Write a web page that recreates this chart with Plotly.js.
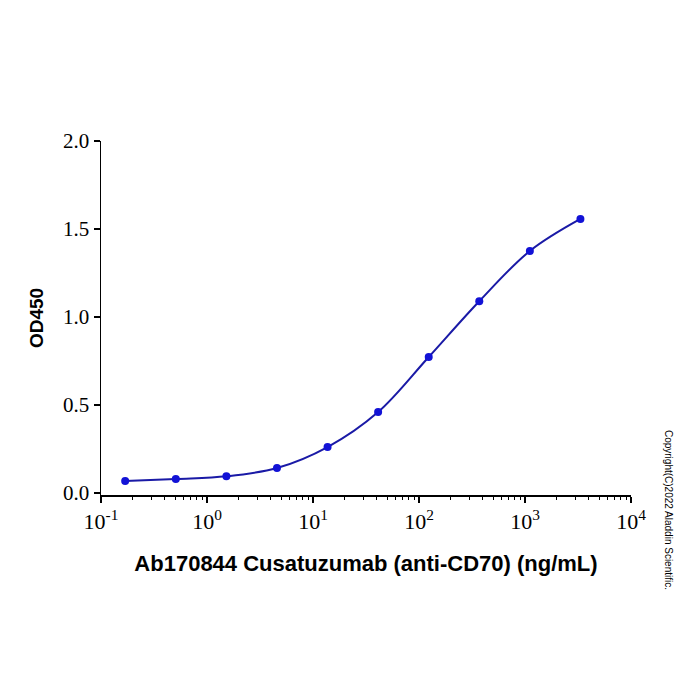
<!DOCTYPE html>
<html>
<head>
<meta charset="utf-8">
<script src="https://cdn.plot.ly/plotly-3.0.1.min.js"></script>
<style>
  html, body { margin: 0; padding: 0; background: #fff; }
  #chart { width: 700px; height: 700px; }
</style>
</head>
<body>
<div id="chart"></div>
<script>
// Concentration series (ng/mL), 3-fold dilutions
const concentration = [0.169, 0.508, 1.524, 4.572, 13.72, 41.15, 123.5, 370.4, 1111, 3333];
// Measured absorbance at 450 nm
const od450 = [0.068, 0.080, 0.095, 0.142, 0.261, 0.460, 0.773, 1.090, 1.375, 1.557];

// Decade ticks on the concentration axis
const xTickVals = [0.1, 1, 10, 100, 1000, 10000];
const xTickText = ['10<sup>-1</sup>', '10<sup>0</sup>', '10<sup>1</sup>', '10<sup>2</sup>', '10<sup>3</sup>', '10<sup>4</sup>'];
const yTickVals = [0, 0.5, 1.0, 1.5, 2.0];
const yTickText = ['0.0', '0.5', '1.0', '1.5', '2.0'];

const xTitle = 'Ab170844 Cusatuzumab (anti-CD70) (ng/mL)';
const yTitle = 'OD450';
const note = 'Copyright(C)2022 Aladdin Scientific.';

const curve = {
  x: concentration,
  y: od450,
  type: 'scatter',
  mode: 'lines',
  line: { color: '#1a1aa6', width: 2, shape: 'spline', smoothing: 1 },
  hoverinfo: 'skip',
  showlegend: false
};

const points = {
  x: concentration,
  y: od450,
  type: 'scatter',
  mode: 'markers',
  marker: { color: '#1212d6', size: 8 },
  showlegend: false
};

const tickFont = { family: 'Liberation Serif, Times New Roman, serif', size: 21, color: '#000' };
const titleFont = { family: 'Liberation Sans, Arial, sans-serif', size: 19, color: '#000', weight: 'bold' };

const layout = {
  width: 700,
  height: 700,
  paper_bgcolor: '#fff',
  plot_bgcolor: '#fff',
  margin: { l: 101, r: 69, t: 141, b: 205 },
  xaxis: {
    type: 'log',
    range: [-1, 4],
    tickmode: 'array',
    tickvals: xTickVals,
    ticktext: xTickText,
    showgrid: false,
    zeroline: false,
    showline: true,
    linecolor: '#000',
    linewidth: 1.5,
    ticks: 'outside',
    ticklen: 6,
    tickwidth: 1.5,
    tickcolor: '#000',
    tickfont: { family: tickFont.family, size: 22, color: '#000' },
    minor: { ticks: 'outside', dtick: 'D1', ticklen: 3.5, tickwidth: 1, tickcolor: '#000', showgrid: false },
    title: {
      text: xTitle,
      font: Object.assign({}, titleFont, { size: 22 }),
      standoff: 22
    }
  },
  yaxis: {
    range: [-0.011, 2.0],
    tickmode: 'array',
    tickvals: yTickVals,
    ticktext: yTickText,
    showgrid: false,
    zeroline: false,
    showline: true,
    linecolor: '#000',
    linewidth: 1.5,
    ticks: 'outside',
    ticklen: 6,
    tickwidth: 1.5,
    tickcolor: '#000',
    tickfont: tickFont,
    title: {
      text: yTitle,
      font: titleFont,
      standoff: 14
    }
  },
  annotations: [{
    text: note,
    xref: 'paper', yref: 'paper',
    x: 1.072, y: 0.189,
    xanchor: 'center', yanchor: 'top',
    textangle: 90,
    showarrow: false,
    font: { family: 'Liberation Sans, Arial, sans-serif', size: 10, color: '#000' }
  }]
};

Plotly.newPlot('chart', [curve, points], layout, { displayModeBar: false, staticPlot: true });
</script>
</body>
</html>
